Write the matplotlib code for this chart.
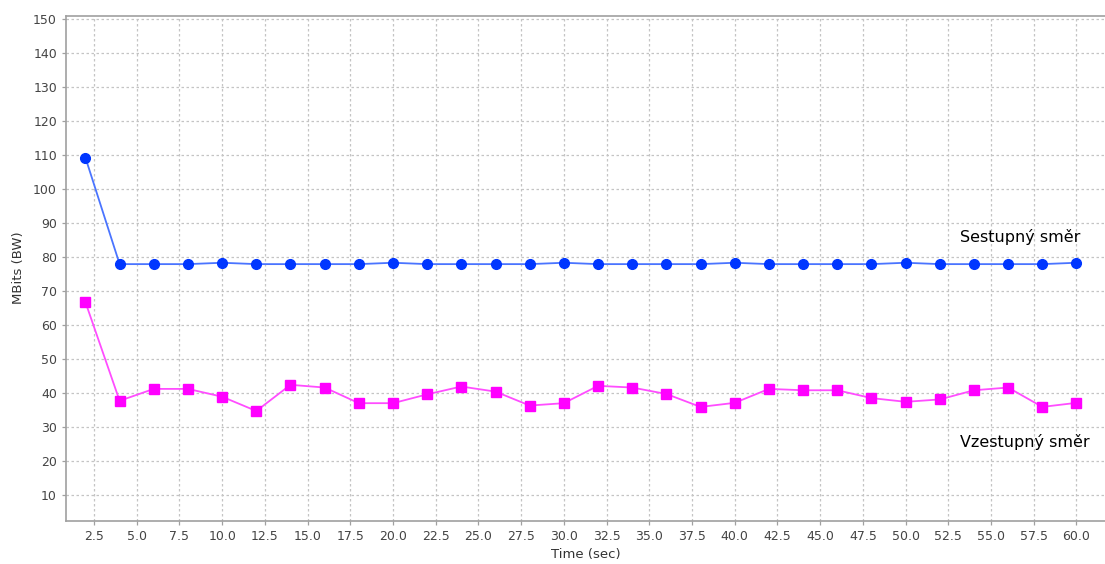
import matplotlib
matplotlib.use("Agg")
import matplotlib.pyplot as plt
import numpy as np

# časové body (s)
cas = [2, 4, 6, 8, 10, 12, 14, 16, 18, 20, 22, 24, 26, 28, 30,
       32, 34, 36, 38, 40, 42, 44, 46, 48, 50, 52, 54, 56, 58, 60]

# sestupný směr (MBits)
sestupny = [109.2, 77.9, 77.9, 77.9, 78.3, 77.9, 77.9, 77.9, 77.9, 78.3,
            77.9, 77.9, 77.9, 77.9, 78.3, 77.9, 77.9, 77.9, 77.9, 78.3,
            77.9, 77.9, 77.9, 77.9, 78.3, 77.9, 77.9, 77.9, 77.9, 78.3]

# vzestupný směr (MBits)
vzestupny = [66.7, 37.7, 41.2, 41.2, 38.9, 34.7, 42.4, 41.6, 37.0, 37.0,
             39.6, 41.9, 40.4, 36.3, 37.0, 42.1, 41.6, 39.7, 35.9, 37.1,
             41.2, 40.8, 40.8, 38.5, 37.4, 38.1, 40.8, 41.6, 35.9, 37.1]

x_ticks = np.arange(2.5, 60.1, 2.5)
y_ticks = np.arange(10, 151, 10)

fig = plt.figure(figsize=(11.05, 5.64), dpi=100)
ax = fig.add_axes([0.0597, 0.0768, 0.94, 0.8954])

ax.plot(cas, sestupny, color='#4a74ff', linewidth=1.3, zorder=3)
ax.plot(cas, sestupny, 'o', color='#0036ff', markersize=7, zorder=4)
ax.plot(cas, vzestupny, color='#ff4dff', linewidth=1.3, zorder=3)
ax.plot(cas, vzestupny, 's', color='#ff00ff', markersize=7.5, zorder=4)

ax.set_xlim(0.86, 61.65)
ax.set_ylim(2.44, 150.97)
ax.set_xticks(x_ticks)
ax.set_xticklabels([f"{v:.1f}" for v in x_ticks])
ax.set_yticks(y_ticks)

ax.grid(True, color='#c4c4c4', linestyle=(0, (2, 2)), linewidth=0.9)
for side in ['left', 'bottom', 'top']:
    ax.spines[side].set_color('#a0a0a0')
    ax.spines[side].set_linewidth(1.2)
ax.spines['right'].set_visible(False)
ax.tick_params(axis='both', colors='#a0a0a0', labelcolor='#444444',
               labelsize=9, length=3, width=0.9)

ax.set_xlabel("Time (sec)", fontsize=9.5, color='#333333', labelpad=4)
ax.set_ylabel("MBits (BW)", fontsize=9.5, color='#333333', labelpad=6)

ax.text(53.2, 85.9, "Sestupný směr", fontsize=11.5, va='center', ha='left')
ax.text(53.2, 25.6, "Vzestupný směr", fontsize=11.5, va='center', ha='left')

fig.savefig("out.png", dpi=100)
